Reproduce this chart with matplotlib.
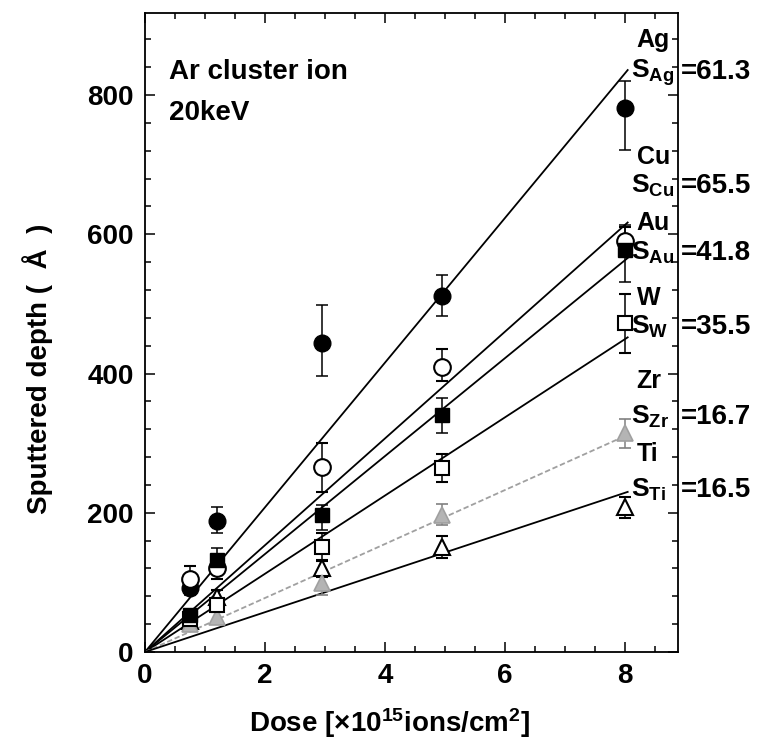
import matplotlib
matplotlib.use("Agg")
import matplotlib.pyplot as plt
import numpy as np
from matplotlib.ticker import MultipleLocator

plt.rcParams['font.family'] = ['Liberation Sans', 'DejaVu Sans']
plt.rcParams['font.weight'] = 'bold'
plt.rcParams['mathtext.fontset'] = 'custom'
plt.rcParams['mathtext.rm'] = 'Liberation Sans:bold'
plt.rcParams['mathtext.bf'] = 'Liberation Sans:bold'
plt.rcParams['mathtext.it'] = 'Liberation Sans:bold'

# dose (x1e15 ions/cm2)
dose = [0.75, 1.2, 2.95, 4.95, 8.0]

# sputtered depth (A) and error bars (lower, upper)
ag = [92, 188, 444, 511, 782]
ag_lo = [10, 17, 48, 29, 61]
ag_hi = [10, 20, 54, 30, 39]
cu = [105, 120, 266, 410, 590]
cu_lo = [18, 15, 36, 20, 20]
cu_hi = [18, 15, 34, 26, 20]
au = [53, 132, 197, 340, 577]
au_lo = [8, 17, 22, 25, 45]
au_hi = [8, 17, 14, 25, 36]
w = [48, 68, 151, 264, 472]
w_err = [8, 10, 20, 20, 43]
zr = [40, 50, 99, 197, 314]
zr_err = [6, 8, 17, 15, 21]
ti = [45, 79, 120, 151, 208]
ti_err = [8, 10, 12, 16, 15]

# fitted lines from the origin, depth at the line end
fit_end = 8.05
fit_ag = 836
fit_cu = 617
fit_au = 566
fit_w = 452
fit_zr = 312
fit_ti = 230

elements = ['Ag', 'Cu', 'Au', 'W', 'Zr', 'Ti']
yields = ['61.3', '65.5', '41.8', '35.5', '16.7', '16.5']
name_y = [879, 711, 617, 508, 390, 284]
yield_y = [833, 670, 573, 467, 338, 233]

fig = plt.figure(figsize=(7.57, 7.42), dpi=100)
ax = fig.add_axes([0.1915, 0.1213, 0.7042, 0.8612])

for end, col, ls in [(fit_ag, 'k', '-'), (fit_cu, 'k', '-'), (fit_au, 'k', '-'),
                     (fit_w, 'k', '-'), (fit_zr, '#a0a0a0', '--'), (fit_ti, 'k', '-')]:
    ax.plot([0, fit_end], [0, end], color=col, ls=ls, lw=1.3, zorder=2,
            dashes=(3, 1.5) if ls == '--' else (None, None))

ebk = dict(capsize=4.5, elinewidth=1.1, capthick=1.1, zorder=3)
ax.errorbar(dose, ti, yerr=ti_err, fmt='^', ms=11, mfc='white', mec='k',
            mew=1.5, ecolor='k', **ebk)
ax.errorbar(dose, zr, yerr=zr_err, fmt='^', ms=11, mfc='#b4b4b4', mec='#a0a0a0',
            mew=1.2, ecolor='#808080', **ebk)
ax.errorbar(dose, w, yerr=w_err, fmt='s', ms=10, mfc='white', mec='k',
            mew=1.5, ecolor='k', **ebk)
ax.errorbar(dose, ag, yerr=[ag_lo, ag_hi], fmt='o', ms=12, mfc='k', mec='k',
            ecolor='k', **ebk)
ax.errorbar(dose, cu, yerr=[cu_lo, cu_hi], fmt='o', ms=12, mfc='white', mec='k',
            mew=1.5, ecolor='k', **ebk)
ax.errorbar(dose, au, yerr=[au_lo, au_hi], fmt='s', ms=10, mfc='k', mec='k',
            ecolor='k', **ebk)

ax.set_xlim(0, 8.89)
ax.set_ylim(0, 918)
ax.xaxis.set_major_locator(MultipleLocator(2))
ax.xaxis.set_minor_locator(MultipleLocator(0.5))
ax.yaxis.set_major_locator(MultipleLocator(200))
ax.yaxis.set_minor_locator(MultipleLocator(40))
ax.tick_params(which='both', direction='in', top=True, right=True, width=1.1,
               labelsize=20, pad=8)
ax.tick_params(which='major', length=7)
ax.tick_params(which='minor', length=4)
for lab in ax.get_xticklabels() + ax.get_yticklabels():
    lab.set_fontweight('bold')
for sp in ax.spines.values():
    sp.set_linewidth(1.3)

ax.set_xlabel(r'Dose [$\times$10$^{15}$ions/cm$^{2}$]', fontsize=20,
              fontweight='bold', labelpad=10)
ax.xaxis.set_label_coords(0.458, -0.085)
ax.set_ylabel(u'Sputtered depth (  \u00c5  )', fontsize=20, fontweight='bold')
ax.yaxis.set_label_coords(-0.172, 0.443)

ax.text(0.4, 833, 'Ar cluster ion', fontsize=20, fontweight='bold', va='center')
ax.text(0.4, 775, '20keV', fontsize=20, fontweight='bold', va='center')

for el, ys, ny, yy in zip(elements, yields, name_y, yield_y):
    ax.text(8.2, ny, el, fontsize=18, fontweight='bold', va='center', clip_on=False)
    ax.text(8.1, yy, r'$\mathbf{S}_{\mathbf{%s}}$' % el, fontsize=19,
            va='center', clip_on=False)
    ax.text(8.93, yy, '=' + ys, fontsize=20, fontweight='bold', va='center',
            clip_on=False)

fig.savefig('out.png', dpi=100)
